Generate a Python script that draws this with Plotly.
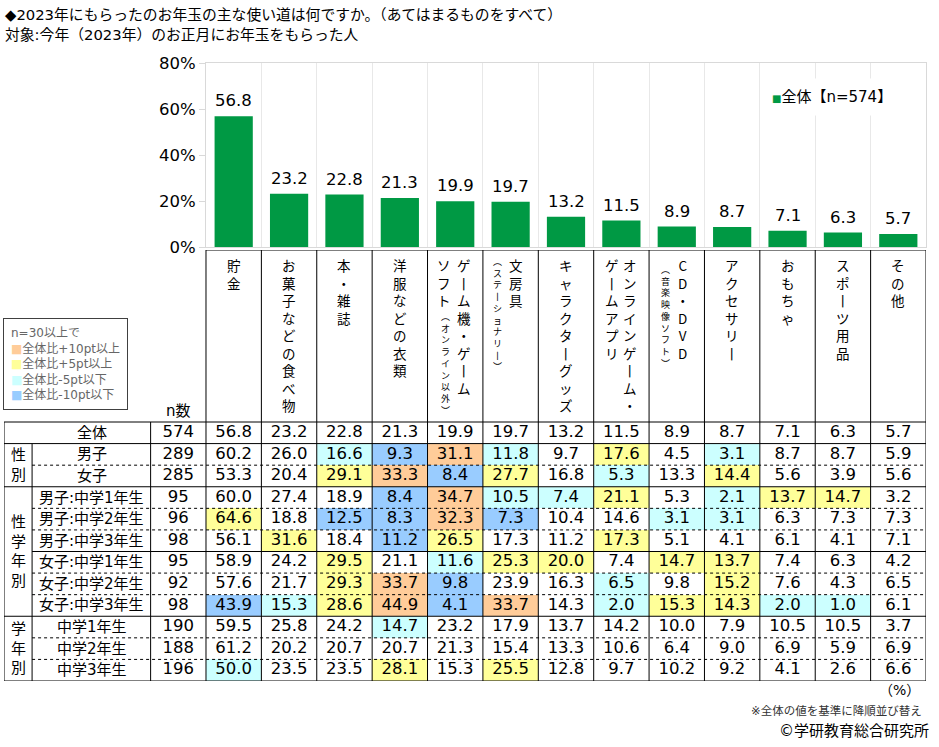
import plotly.graph_objects as go

# 使い道（全体の値で降順）
categories = ["貯金", "お菓子などの食べ物", "本・雑誌", "洋服などの衣類",
              "ゲーム機・ゲームソフト（オンライン以外）", "文房具（ステーショナリー）",
              "キャラクターグッズ", "オンラインゲーム・ゲームアプリ",
              "CD・DVD（音楽映像ソフト）", "アクセサリー", "おもちゃ", "スポーツ用品", "その他"]

overall = [56.8, 23.2, 22.8, 21.3, 19.9, 19.7, 13.2, 11.5, 8.9, 8.7, 7.1, 6.3, 5.7]
boys = [60.2, 26.0, 16.6, 9.3, 31.1, 11.8, 9.7, 17.6, 4.5, 3.1, 8.7, 8.7, 5.9]
girls = [53.3, 20.4, 29.1, 33.3, 8.4, 27.7, 16.8, 5.3, 13.3, 14.4, 5.6, 3.9, 5.6]
boys_g1 = [60.0, 27.4, 18.9, 8.4, 34.7, 10.5, 7.4, 21.1, 5.3, 2.1, 13.7, 14.7, 3.2]
boys_g2 = [64.6, 18.8, 12.5, 8.3, 32.3, 7.3, 10.4, 14.6, 3.1, 3.1, 6.3, 7.3, 7.3]
boys_g3 = [56.1, 31.6, 18.4, 11.2, 26.5, 17.3, 11.2, 17.3, 5.1, 4.1, 6.1, 4.1, 7.1]
girls_g1 = [58.9, 24.2, 29.5, 21.1, 11.6, 25.3, 20.0, 7.4, 14.7, 13.7, 7.4, 6.3, 4.2]
girls_g2 = [57.6, 21.7, 29.3, 33.7, 9.8, 23.9, 16.3, 6.5, 9.8, 15.2, 7.6, 4.3, 6.5]
girls_g3 = [43.9, 15.3, 28.6, 44.9, 4.1, 33.7, 14.3, 2.0, 15.3, 14.3, 2.0, 1.0, 6.1]
grade1 = [59.5, 25.8, 24.2, 14.7, 23.2, 17.9, 13.7, 14.2, 10.0, 7.9, 10.5, 10.5, 3.7]
grade2 = [61.2, 20.2, 20.7, 20.7, 21.3, 15.4, 13.3, 10.6, 6.4, 9.0, 6.9, 5.9, 6.9]
grade3 = [50.0, 23.5, 23.5, 28.1, 15.3, 25.5, 12.8, 9.7, 10.2, 9.2, 4.1, 2.6, 6.6]

row_labels = ["全体", "男子", "女子", "男子:中学1年生", "男子:中学2年生", "男子:中学3年生",
              "女子:中学1年生", "女子:中学2年生", "女子:中学3年生",
              "中学1年生", "中学2年生", "中学3年生"]
row_n = [574, 289, 285, 95, 96, 98, 95, 92, 98, 190, 188, 196]
groups = [("性別", 1, 2), ("性学年別", 3, 8), ("学年別", 9, 11)]

y_ticks = [0, 20, 40, 60, 80]

table = [overall, boys, girls, boys_g1, boys_g2, boys_g3,
         girls_g1, girls_g2, girls_g3, grade1, grade2, grade3]

FONT = "DejaVu Sans, Noto Sans CJK JP"
GREEN = "rgb(0,153,68)"
ORANGE, YELLOW, CYAN, BLUE = "#FFCC99", "#FFFF99", "#CCFFFF", "#99CCFF"

W, H = 939, 747
ncol = len(categories)
nrow = len(row_labels)

# テーブル座標（1列 = 1単位）
X_LEFT = -4.147
X_GROUP = -3.64
X_LABEL = -2.56
Y_TOP = -8.47


def level(v, base, n):
    if n < 30:
        return 0
    d = round(v - base, 1)
    if d >= 10:
        return 1
    if d >= 5:
        return 2
    if d <= -10:
        return 4
    if d <= -5:
        return 3
    return 0


z = []
for r, vals in enumerate(table):
    if r == 0:
        z.append([0] * ncol)
    else:
        z.append([level(v, b, row_n[r]) for v, b in zip(vals, overall)])

fig = go.Figure()

fig.add_trace(go.Bar(
    x=list(range(ncol)), y=overall, width=0.69,
    marker=dict(color=GREEN, line_width=0),
    name="全体【n=574】", hoverinfo="skip", showlegend=False,
))

fig.add_trace(go.Heatmap(
    x=list(range(ncol)), y=list(range(nrow)), z=z,
    zmin=-0.5, zmax=4.5,
    colorscale=[[0, "white"], [0.2, "white"], [0.2, ORANGE], [0.4, ORANGE],
                [0.4, YELLOW], [0.6, YELLOW], [0.6, CYAN], [0.8, CYAN],
                [0.8, BLUE], [1, BLUE]],
    showscale=False, hoverinfo="skip", xaxis="x2", yaxis="y2",
))

tx, ty, tt = [], [], []
for r, vals in enumerate(table):
    for c, v in enumerate(vals):
        tx.append(c)
        ty.append(r)
        tt.append(f"{v:.1f}")
    tx.append(-1)
    ty.append(r)
    tt.append(str(row_n[r]))
fig.add_trace(go.Scatter(
    x=tx, y=ty, text=tt, mode="text", textposition="middle center",
    textfont=dict(size=16.5, color="black", family=FONT),
    hoverinfo="skip", showlegend=False, xaxis="x2", yaxis="y2",
))

annotations = []

# 棒の値ラベル
for i, v in enumerate(overall):
    annotations.append(dict(
        x=i, y=v, xref="x", yref="y", text=f"{v:.1f}", showarrow=False,
        yanchor="bottom", yshift=4, font=dict(size=16.5, color="black", family=FONT),
    ))

# 凡例（全体）
annotations.append(dict(
    x=762 / W, y=1 - 97 / H, xref="paper", yref="paper", xanchor="left", yanchor="middle",
    showarrow=False, bgcolor="white", borderpad=9,
    text=f"<span style='color:{GREEN};font-size:10px'>■</span>全体【n=574】",
    font=dict(size=15, color="black", family=FONT),
))


def vert(s):
    s = s.replace("ー", "丨").replace("（", "︵").replace("）", "︶")
    return "<br>".join(s)


BIG, SMALL = 13.5, 9
# 縦書きラベル：(文字列, 文字サイズ, 横ずれpx, 上からのずれpx)
label_cols = {
    4: [("ゲーム機・ゲーム", BIG, 9, 0), ("ソフト", BIG, -11, 0), ("（オンライン以外）", SMALL, -10, 55)],
    5: [("文房具", BIG, 5, 0), ("（ステーショナリー）", SMALL, -13, 0)],
    7: [("オンラインゲーム・", BIG, 9, 0), ("ゲームアプリ", BIG, -9, 0)],
    8: [("CD・DVD", BIG, 6, 0), ("（音楽映像ソフト）", SMALL, -11, 8)],
}
for i, name in enumerate(categories):
    cols = label_cols.get(i, [(name, BIG, 0, 0)])
    for s, size, dx, dy in cols:
        annotations.append(dict(
            x=i, y=Y_TOP, xref="x2", yref="y2", text=vert(s), showarrow=False,
            xanchor="center", yanchor="top", align="center",
            xshift=dx, yshift=-3 - dy,
            font=dict(size=size, color="black", family="Noto Sans CJK JP, DejaVu Sans"),
        ))

# 行ラベル
for r, lab in enumerate(row_labels):
    annotations.append(dict(
        x=X_LABEL, y=r, xref="x2", yref="y2", text=lab, showarrow=False,
        font=dict(size=15, color="black", family=FONT),
    ))
for lab, r0, r1 in groups:
    annotations.append(dict(
        x=(X_LEFT + X_GROUP) / 2, y=(r0 + r1) / 2, xref="x2", yref="y2",
        text="<br>".join(lab), showarrow=False,
        font=dict(size=15, color="black", family=FONT),
    ))
annotations.append(dict(
    x=-1, y=-0.5, xref="x2", yref="y2", text="n数", showarrow=False,
    yanchor="bottom", yshift=0, font=dict(size=15, color="black", family=FONT),
))

# 凡例（色分け）
annotations.append(dict(
    x=3 / W, y=1 - 318 / H, xref="paper", yref="paper", xanchor="left", yanchor="top",
    align="left", showarrow=False,
    text=("n=30以上で<br>"
          f"<span style='color:{ORANGE}'>■</span>全体比+10pt以上<br>"
          f"<span style='color:{YELLOW}'>■</span>全体比+5pt以上<br>"
          f"<span style='color:{CYAN}'>■</span>全体比-5pt以下<br>"
          f"<span style='color:{BLUE}'>■</span>全体比-10pt以下"),
    font=dict(size=12, color="#666666", family=FONT),
    bordercolor="#404040", borderwidth=1, borderpad=7, bgcolor="white",
))

# タイトル・注記
annotations += [
    dict(x=3 / W, y=1 - 4 / H, xref="paper", yref="paper", xanchor="left", yanchor="top",
         showarrow=False, text="◆2023年にもらったのお年玉の主な使い道は何ですか。（あてはまるものをすべて）",
         font=dict(size=14.8, color="black", family=FONT)),
    dict(x=3 / W, y=1 - 24 / H, xref="paper", yref="paper", xanchor="left", yanchor="top",
         showarrow=False, text="対象:今年（2023年）のお正月にお年玉をもらった人",
         font=dict(size=14.8, color="black", family=FONT)),
    dict(x=922 / W, y=1 - 690 / H, xref="paper", yref="paper", xanchor="right", yanchor="middle",
         showarrow=False, text="（%）", font=dict(size=14, color="black", family=FONT)),
    dict(x=924 / W, y=1 - 711 / H, xref="paper", yref="paper", xanchor="right", yanchor="middle",
         showarrow=False, text="※全体の値を基準に降順並び替え",
         font=dict(size=11.5, color="#333333", family=FONT)),
    dict(x=931 / W, y=1 - 731 / H, xref="paper", yref="paper", xanchor="right", yanchor="middle",
         showarrow=False, text="©学研教育総合研究所", font=dict(size=15, color="black", family=FONT)),
]

# 表の罫線
shapes = []


def hline(y, x0, x1, dash="solid"):
    shapes.append(dict(type="line", xref="x2", yref="y2", x0=x0, x1=x1, y0=y, y1=y,
                       line=dict(color="black", width=1, dash=dash)))


def vline(x, y0, y1):
    shapes.append(dict(type="line", xref="x2", yref="y2", x0=x, x1=x, y0=y0, y1=y1,
                       line=dict(color="black", width=1)))


solid_full = [-0.5, 0.5, 2.5, 8.5, nrow - 0.5]
solid_inner = [5.5]
for k in range(nrow + 1):
    y = k - 0.5
    if y in solid_full:
        hline(y, X_LEFT, ncol - 0.5)
    elif y in solid_inner:
        hline(y, X_GROUP, ncol - 0.5)
    else:
        hline(y, X_GROUP, ncol - 0.5, "dot")
hline(Y_TOP, -0.5, ncol - 0.5)
vline(X_LEFT, -0.5, nrow - 0.5)
vline(X_GROUP, 0.5, nrow - 0.5)
vline(-1.5, -0.5, nrow - 0.5)
for c in range(ncol + 1):
    vline(c - 0.5, Y_TOP, nrow - 0.5)

fig.update_layout(
    width=W, height=H, margin=dict(l=0, r=0, t=0, b=0, pad=0, autoexpand=False),
    paper_bgcolor="white", plot_bgcolor="white",
    font=dict(family=FONT, color="black"),
    showlegend=False,
    xaxis=dict(domain=[206 / W, 926 / W], range=[-0.5, ncol - 0.5],
               tickvals=[c - 0.5 for c in range(ncol + 1)], showticklabels=False, ticks="",
               showgrid=True, gridcolor="#e8e8e8", zeroline=False,
               showline=True, mirror=True, linecolor="#d9d9d9", fixedrange=True),
    yaxis=dict(domain=[1 - 247 / H, 1 - 63 / H], range=[0, 80],
               tickvals=y_ticks, ticktext=[f"{t}%" for t in y_ticks],
               showgrid=False, zeroline=False,
               ticks="outside", ticklen=6, tickcolor="#d9d9d9",
               tickfont=dict(size=16.5, color="black", family=FONT),
               showline=True, mirror=True, linecolor="#d9d9d9", fixedrange=True),
    xaxis2=dict(domain=[4 / W, 926 / W], range=[X_LEFT, ncol - 0.5], visible=False,
                fixedrange=True),
    yaxis2=dict(domain=[1 - 681 / H, 1 - 250 / H], range=[nrow - 0.5, Y_TOP], visible=False,
                fixedrange=True),
    annotations=annotations,
    shapes=shapes,
)

# ページ余白を消して図を左上に合わせる
fig.write_html("out.html", config={"displayModeBar": False},
               post_script="document.body.style.margin='0px';")
